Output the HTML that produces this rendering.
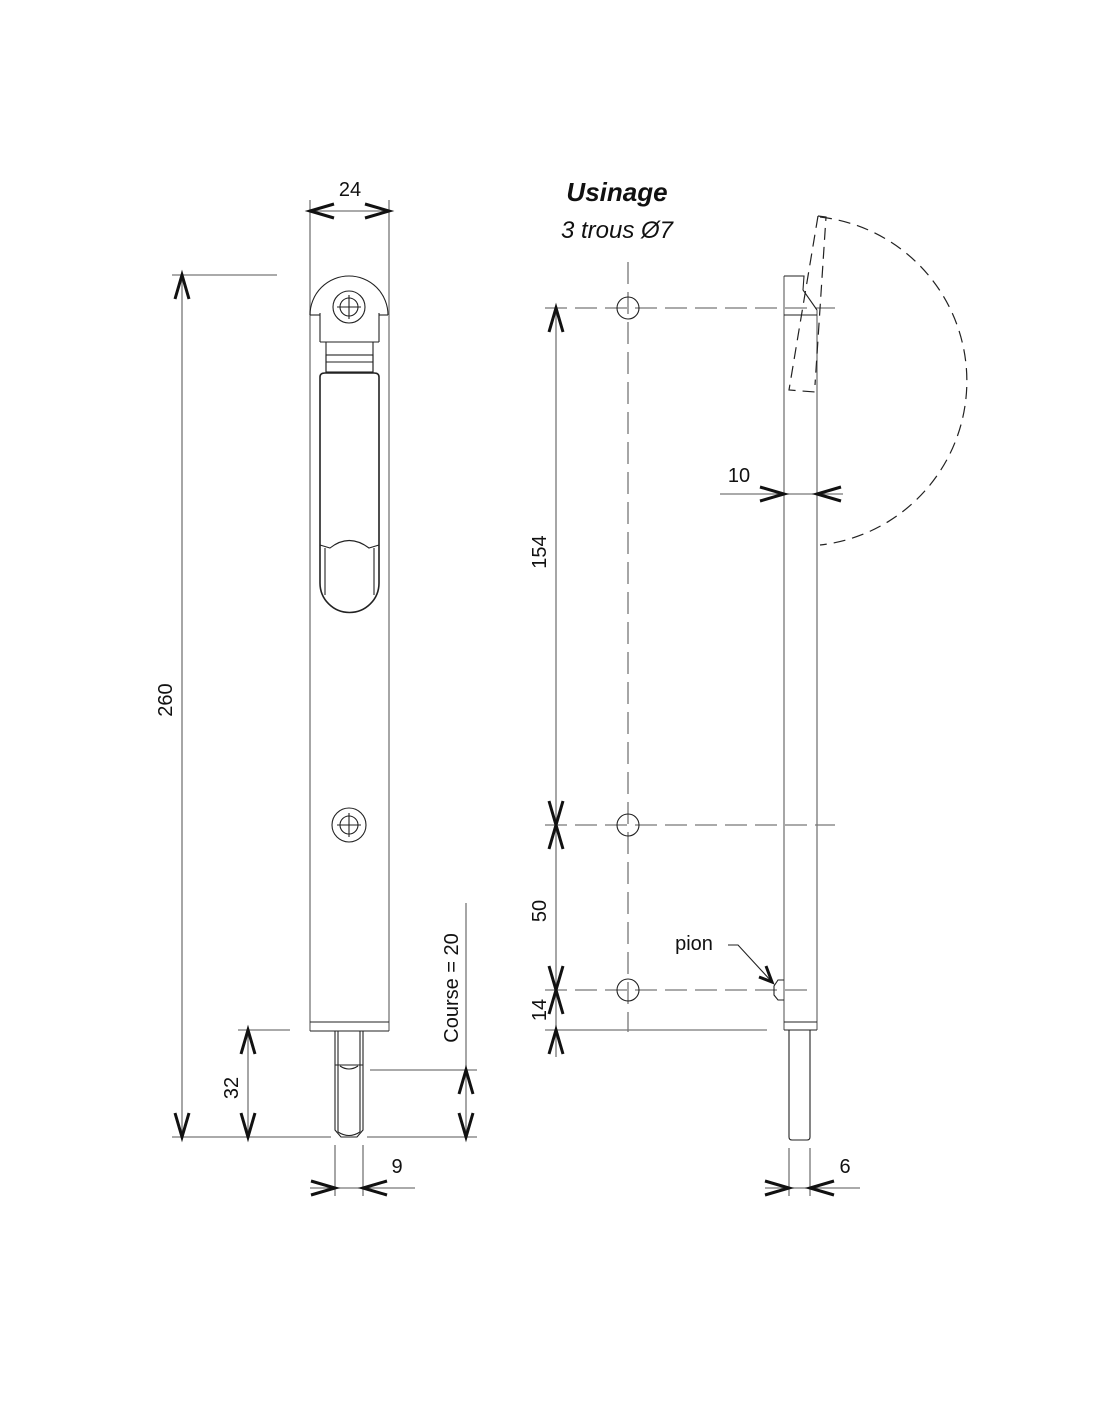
<!DOCTYPE html>
<html><head><meta charset="utf-8"><style>
html,body{margin:0;padding:0;background:#fff;}
svg{display:block;}
text{font-family:"Liberation Sans",sans-serif;fill:#111;}
</style></head><body>
<svg width="1100" height="1422" viewBox="0 0 1100 1422" xmlns="http://www.w3.org/2000/svg">
<g fill="none" stroke="#777" stroke-width="1.3">
<line x1="310" y1="200" x2="310" y2="1031"/>
<line x1="389" y1="200" x2="389" y2="1031"/>
<line x1="310" y1="211" x2="389" y2="211"/>
<line x1="172" y1="275" x2="277" y2="275"/>
<line x1="182" y1="275" x2="182" y2="1137"/>
<line x1="172" y1="1137" x2="331" y2="1137"/>
<line x1="238" y1="1030" x2="290" y2="1030"/>
<line x1="248" y1="1030" x2="248" y2="1137"/>
<line x1="466" y1="903" x2="466" y2="1137"/>
<line x1="370" y1="1070" x2="477" y2="1070"/>
<line x1="367" y1="1137" x2="477" y2="1137"/>
<line x1="335" y1="1145" x2="335" y2="1196"/>
<line x1="363" y1="1145" x2="363" y2="1196"/>
<line x1="310" y1="1188" x2="415" y2="1188"/>
</g>
<g fill="none" stroke="#222" stroke-width="1.1">
<path d="M310,315 A39,39 0 0 1 388,315"/>
<line x1="310" y1="315" x2="320" y2="315"/>
<line x1="379" y1="315" x2="388" y2="315"/>
<line x1="320" y1="313" x2="320" y2="342"/>
<line x1="379" y1="313" x2="379" y2="342"/>
<line x1="320" y1="342" x2="379" y2="342"/>
<circle cx="349" cy="307" r="16"/>
<circle cx="349" cy="307" r="9"/>
<line x1="337" y1="307" x2="361" y2="307"/>
<line x1="349" y1="295" x2="349" y2="319"/>
<line x1="326" y1="342" x2="326" y2="372"/>
<line x1="373" y1="342" x2="373" y2="372"/>
<rect x="326" y="355" width="47" height="17"/>
<line x1="326" y1="362" x2="373" y2="362"/>
<path d="M320,377 Q320,373 325,373 L374,373 Q379,373 379,377 L379,583 A29.5,29.5 0 0 1 320,583 Z" stroke-width="1.6"/>
<path d="M320,545 L330,548 Q349,533 369,548 L379,545"/>
<line x1="325" y1="548" x2="325" y2="595"/>
<line x1="374" y1="548" x2="374" y2="595"/>
<circle cx="349" cy="825" r="17"/>
<circle cx="349" cy="825" r="9"/>
<line x1="337" y1="825" x2="361" y2="825"/>
<line x1="349" y1="813" x2="349" y2="837"/>
<line x1="310" y1="1022" x2="389" y2="1022"/>
<line x1="310" y1="1031" x2="389" y2="1031"/>
<path d="M335,1031 L335,1130 L341,1137 L357,1137 L363,1130 L363,1031"/>
<line x1="338" y1="1031" x2="338" y2="1132"/>
<line x1="360" y1="1031" x2="360" y2="1132"/>
<path d="M335,1065 L363,1065"/>
<path d="M340,1066 Q349,1072 358,1066"/>
<path d="M338,1132 Q349,1139 360,1132"/>
</g>
<g fill="none" stroke="#777" stroke-width="1.3">
<line x1="628" y1="262" x2="628" y2="1032" stroke-dasharray="22 8"/>
<line x1="545" y1="308" x2="835" y2="308" stroke-dasharray="22 8"/>
<line x1="545" y1="825" x2="835" y2="825" stroke-dasharray="22 8"/>
<line x1="545" y1="990" x2="808" y2="990" stroke-dasharray="22 8"/>
<line x1="545" y1="1030" x2="767" y2="1030"/>
<line x1="556" y1="308" x2="556" y2="1057"/>
<line x1="720" y1="494" x2="843" y2="494"/>
<line x1="789" y1="1148" x2="789" y2="1196"/>
<line x1="810" y1="1148" x2="810" y2="1196"/>
<line x1="765" y1="1188" x2="860" y2="1188"/>
<line x1="784" y1="276" x2="784" y2="1030"/>
<line x1="817" y1="310" x2="817" y2="1030"/>
</g>
<g fill="none" stroke="#222" stroke-width="1.1">
<circle cx="628" cy="308" r="11"/>
<circle cx="628" cy="825" r="11"/>
<circle cx="628" cy="990" r="11"/>
<path d="M784,276 L804,276 L803,290 L817,310"/>
<line x1="784" y1="315" x2="817" y2="315"/>
<line x1="784" y1="1022" x2="817" y2="1022"/>
<line x1="784" y1="1030" x2="817" y2="1030"/>
<path d="M789,1030 L789,1137 Q789,1140 792,1140 L807,1140 Q810,1140 810,1137 L810,1030"/>
<path d="M784,980 L778,980 L774,986 L774,995 L778,1000 L784,1000"/>
<path d="M728,945 L738,945 L772,982"/>
</g>
<g fill="none" stroke="#222" stroke-width="1.2" stroke-dasharray="12 7">
<path d="M820,217 A165,165 0 0 1 820,545"/>
<path d="M818,216 L826,217 L815,385"/>
<path d="M818,216 L789,390 L815,392"/>
</g>
<g fill="none" stroke="#111" stroke-width="3">
<path d="M334,204 L310,211 L334,218"/>
<path d="M365,204 L389,211 L365,218"/>
<path d="M175,299 L182,275 L189,299"/>
<path d="M175,1113 L182,1137 L189,1113"/>
<path d="M241,1054 L248,1030 L255,1054"/>
<path d="M241,1113 L248,1137 L255,1113"/>
<path d="M459,1094 L466,1070 L473,1094"/>
<path d="M459,1113 L466,1137 L473,1113"/>
<path d="M311,1181 L335,1188 L311,1195"/>
<path d="M387,1181 L363,1188 L387,1195"/>
<path d="M549,332 L556,308 L563,332"/>
<path d="M549,801 L556,825 L563,801"/>
<path d="M549,849 L556,825 L563,849"/>
<path d="M549,966 L556,990 L563,966"/>
<path d="M549,1014 L556,990 L563,1014"/>
<path d="M549,1054 L556,1030 L563,1054"/>
<path d="M760,487 L784,494 L760,501"/>
<path d="M841,487 L817,494 L841,501"/>
<path d="M765,1181 L789,1188 L765,1195"/>
<path d="M834,1181 L810,1188 L834,1195"/>
<path d="M759,977 L772,982 L766,966"/>
</g>
<g font-size="20">
<text x="350" y="196" text-anchor="middle">24</text>
<text x="397" y="1173" text-anchor="middle">9</text>
<text x="739" y="482" text-anchor="middle">10</text>
<text x="845" y="1173" text-anchor="middle">6</text>
<text x="694" y="950" text-anchor="middle">pion</text>
<text transform="translate(172,700) rotate(-90)" text-anchor="middle">260</text>
<text transform="translate(238,1088) rotate(-90)" text-anchor="middle">32</text>
<text transform="translate(458,988) rotate(-90)" text-anchor="middle">Course = 20</text>
<text transform="translate(546,552) rotate(-90)" text-anchor="middle">154</text>
<text transform="translate(546,911) rotate(-90)" text-anchor="middle">50</text>
<text transform="translate(546,1010) rotate(-90)" text-anchor="middle">14</text>
</g>
<text x="617" y="201" text-anchor="middle" font-size="26" font-weight="bold" font-style="italic">Usinage</text>
<text x="617" y="238" text-anchor="middle" font-size="24" font-style="italic">3 trous Ø7</text>
</svg>
</body></html>
